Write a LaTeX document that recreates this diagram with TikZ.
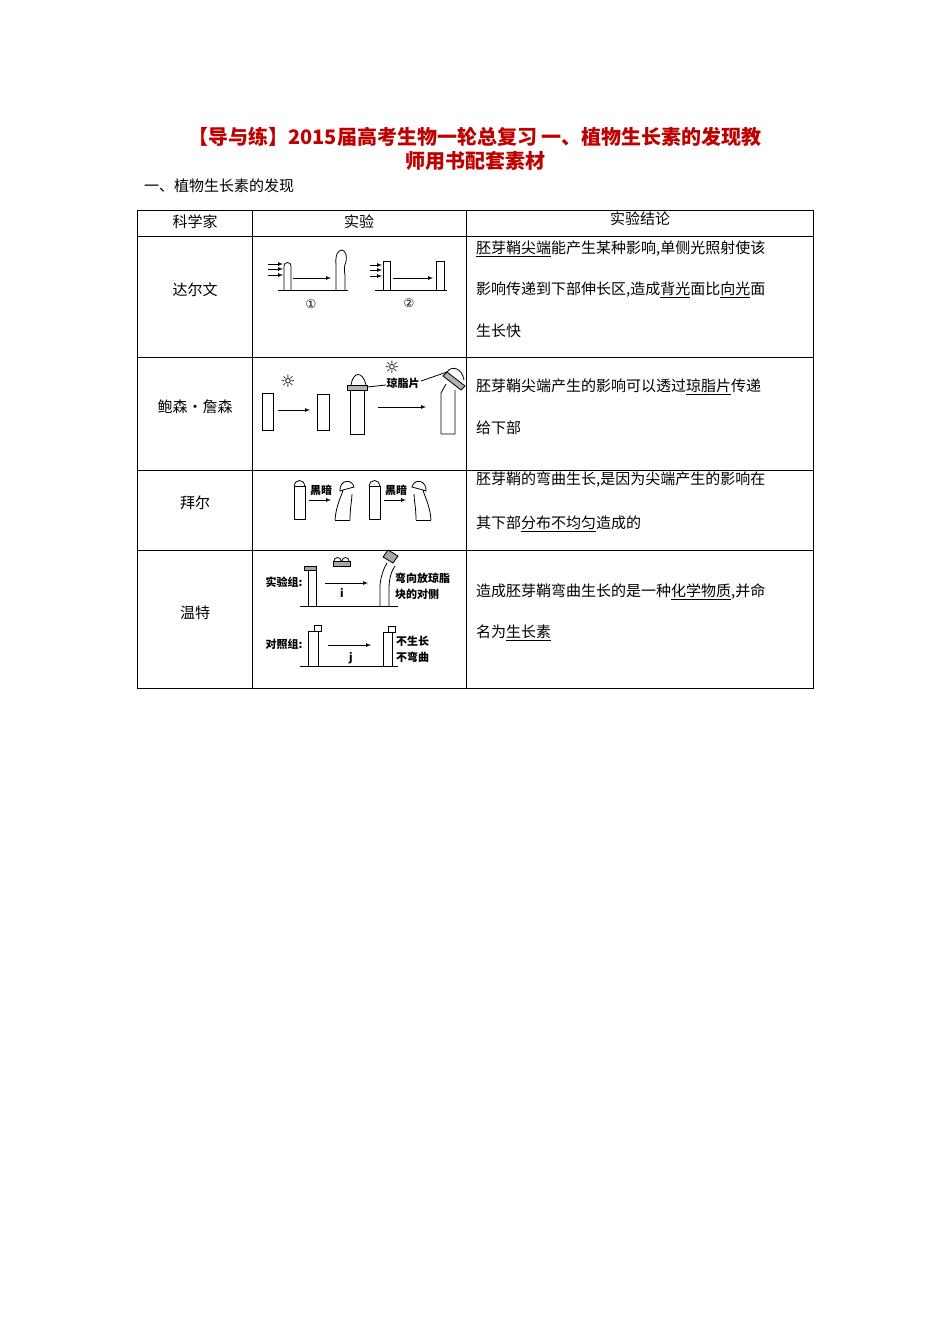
\documentclass[tikz,border=0pt]{standalone}
\usepackage{fontspec}
\setmainfont{Noto Sans CJK SC}
\newfontfamily\djv{DejaVu Sans}
\begin{document}
\begin{tikzpicture}[x=1pt,y=-1pt,
  body/.style={font=\fontsize{15}{15}\selectfont,anchor=west,inner sep=0},
  lab/.style={font=\fontsize{11}{11}\selectfont\bfseries,inner sep=0},
  sun/.style={font=\djv\fontsize{17}{17}\selectfont,inner sep=0},
  ln/.style={line width=0.8pt},
  arr/.style={-latex,line width=0.7pt}]
\useasboundingbox (0,0) rectangle (950,1344);
\node[font=\fontsize{20}{20}\selectfont\bfseries,text=red!75!black] (t1) at (475,137) {【导与练】2015届高考生物一轮总复习\ 一、植物生长素的发现教};
\node[font=\fontsize{20}{20}\selectfont\bfseries,text=red!75!black] (t2) at (475,161) {师用书配套素材};
\node[body] (sec) at (144,186) {一、植物生长素的发现};
% table
\draw[line width=0.6pt] (137,210) rectangle (813,688);
\foreach \y in {236,357,470,550} \draw[line width=0.6pt] (137,\y) -- (813,\y);
\draw[line width=0.6pt] (252,210) -- (252,688) (466,210) -- (466,688);
\node[body,anchor=center] (h1) at (195,222) {科学家};
\node[body,anchor=center] (h2) at (359,222) {实验};
\node[body,anchor=center] (h3) at (640,219) {实验结论};
\node[body,anchor=center] (n1) at (195,290) {达尔文};
\node[body,anchor=center] (n2) at (195,407) {鲍森·詹森};
\node[body,anchor=center] (n3) at (195,503) {拜尔};
\node[body,anchor=center] (n4) at (195,613) {温特};
% conclusions
\node[body] (c1a) at (476,249) {\underline{胚芽鞘尖端}能产生某种影响,单侧光照射使该};
\node[body] (c1b) at (476,290) {影响传递到下部伸长区,造成\underline{背光}面比\underline{向光}面};
\node[body] (c1c) at (476,331) {生长快};
\node[body] (c2a) at (476,387) {胚芽鞘尖端产生的影响可以透过\underline{琼脂片}传递};
\node[body] (c2b) at (476,428) {给下部};
\node[body] (c3a) at (476,480) {胚芽鞘的弯曲生长,是因为尖端产生的影响在};
\node[body] (c3b) at (476,524) {其下部\underline{分布不均匀}造成的};
\node[body] (c4a) at (476,592) {造成胚芽鞘弯曲生长的是一种\underline{化学物质},并命};
\node[body] (c4b) at (476,633) {名为\underline{生长素}};
% Darwin
\draw[ln] (278,290) -- (348,290) (375,290) -- (447,290);
\draw[ln] (284,290) -- (284,266) arc (180:360:3.5) -- (291,290);
\foreach \y in {264,269,275} {\draw[arr] (268,\y) -- (283,\y); \draw[arr] (370,\y+1) -- (382,\y+1);}
\draw[arr] (293,278) -- (331,278);
\draw[ln] (336,290) -- (336,265) .. controls (335,255) and (338,250) .. (342,250) .. controls (346,251) and (347,256) .. (346,262) .. controls (344,266) and (344,270) .. (345,275) -- (345,290);
\node[font=\djv\fontsize{12}{12}\selectfont] (d1) at (311,304) {①};
\draw[ln] (383,290) rectangle (390,261);
\draw[arr] (393,278) -- (433,278);
\draw[ln] (436,290) rectangle (444,261);
\node[font=\djv\fontsize{12}{12}\selectfont] (d2) at (409,303) {②};
% Boysen-Jensen
\node[sun] (s1) at (288,381) {☼};
\draw[ln] (262,393) rectangle (273,430);
\draw[arr] (278,410) -- (310,410);
\draw[ln] (317,394) rectangle (329,430);
\draw[ln] (350,390) rectangle (364,434);
\draw[ln,fill=gray!60] (347,385) rectangle (367,390);
\draw[ln] (351,385) .. controls (353,371) and (363,371) .. (366,385);
\node[sun] (s2) at (392,367) {☼};
\node[lab] (agar) at (403,383) {琼脂片};
\draw[ln] (367,387) -- (386,385);
\draw[arr] (378,407) -- (426,407);
\draw[ln] (441,434) -- (441,393) -- (446,384) (455,434) -- (455,390) (441,434) -- (455,434);
\draw[ln,fill=gray!60] (443,376) -- (447,372) -- (465,386) -- (461,390) -- cycle;
\draw[ln] (447,372) .. controls (452,365) and (462,368) .. (464,380);
\draw[ln] (421,381) -- (447,372);
% Baer
\foreach \x in {294,369} {
\draw[ln] (\x,519) -- (\x,486) -- (\x+11,486) -- (\x+11,519) -- cycle;
\draw[ln] (\x,486) arc (180:360:5.5);
\draw[arr] (\x+15,500) -- (\x+37,500);
\node[lab] at (\x+27,490) {黑暗};
}
\draw[ln] (335,520) .. controls (336,505) and (342,495) .. (343,490) (350,520) .. controls (350,507) and (352,500) .. (352,494);
\draw[ln] (340,491) .. controls (339,480) and (352,478) .. (354,487) -- (343,490) -- cycle;
\draw[ln] (335,520) -- (350,520);
\draw[ln] (431,520) .. controls (430,505) and (424,495) .. (423,490) (416,520) .. controls (416,507) and (414,500) .. (414,494);
\draw[ln] (426,491) .. controls (427,480) and (414,478) .. (412,487) -- (423,490) -- cycle;
\draw[ln] (416,520) -- (431,520);
% Went
\node[lab,anchor=center] (g1) at (284,582) {实验组:};
\draw[ln] (300,606) -- (398,606);
\draw[ln] (308,606) rectangle (316,570);
\draw[ln,fill=gray!70] (304,566) rectangle (316,570);
\draw[ln] (334,561) arc (180:360:3.5) (342,561) arc (180:360:3.5);
\draw[ln,fill=gray!70] (333,561) rectangle (350,566);
\draw[arr] (325,583) -- (368,583);
\node[lab] at (342,593) {i};
\draw[ln] (380,606) -- (380,585) .. controls (381,575) and (384,568) .. (387,563) (389,606) -- (389,588) .. controls (389,578) and (392,570) .. (395,566);
\draw[ln,fill=gray!70] (383,557) -- (388,550) -- (398,556) -- (393,563) -- cycle;
\node[lab,anchor=west] (g1t) at (395,578) {弯向放琼脂};
\node[lab,anchor=west] (g1u) at (395,594) {块的对侧};
\node[lab,anchor=center] (g2) at (284,644) {对照组:};
\draw[ln] (300,666) -- (398,666);
\draw[ln] (308,666) rectangle (318,631);
\draw[ln] (314,625) rectangle (321,631);
\draw[arr] (328,645) -- (371,645);
\node[lab] at (351,658) {j};
\draw[ln] (383,666) rectangle (392,632);
\draw[ln] (388,626) rectangle (395,632);
\node[lab,anchor=west] (g2t) at (396,641) {不生长};
\node[lab,anchor=west] (g2u) at (396,657) {不弯曲};
\end{tikzpicture}
\end{document}
